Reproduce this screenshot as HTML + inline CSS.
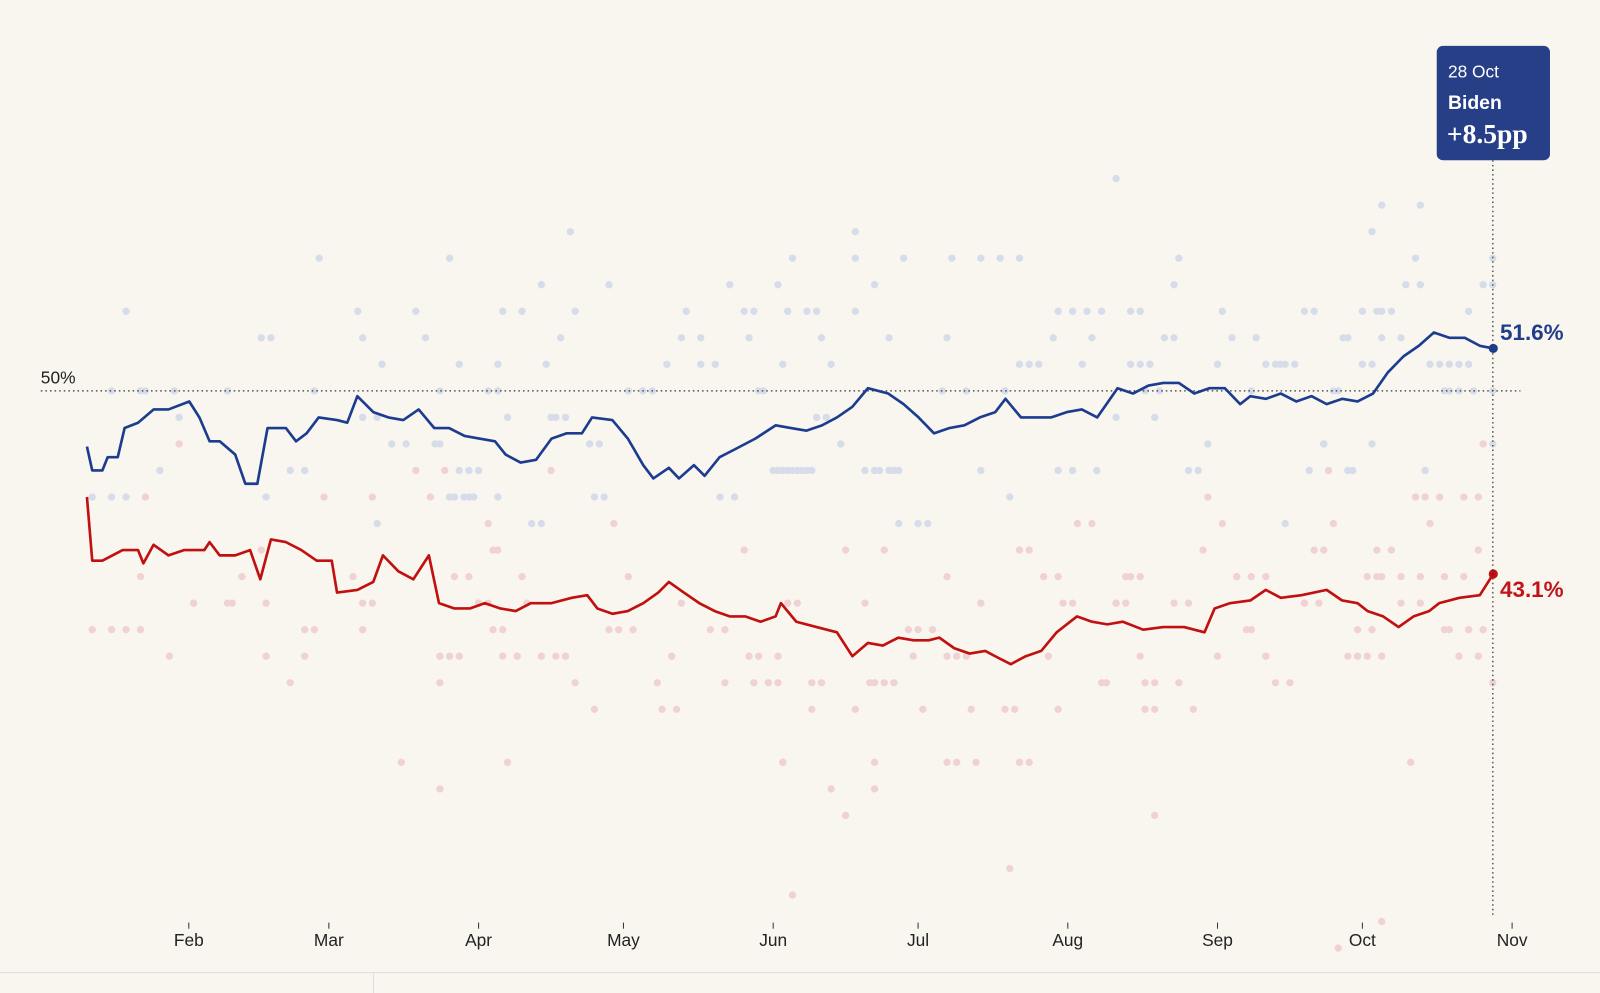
<!DOCTYPE html>
<html><head><meta charset="utf-8"><style>
html,body{margin:0;padding:0;background:#f9f6f0;}
svg{display:block;font-family:"Liberation Sans",sans-serif;}
</style></head><body>
<svg id="chart" width="1600" height="993" viewBox="0 0 1568 973" preserveAspectRatio="none">
<rect x="0" y="0" width="1568" height="973" fill="#f9f6f0"/>
<g id="dots"></g>
<line x1="40" x2="1490" y1="383" y2="383" stroke="#333" stroke-width="1.2" stroke-dasharray="1.5,3"/>
<text x="40" y="376" font-size="17" fill="#222">50%</text>
<g id="lines"></g>
<g id="xaxis"></g>
<line x1="1463" x2="1463" y1="157" y2="898" stroke="#333" stroke-width="1.2" stroke-dasharray="1.5,3"/>
<g>
<rect x="1408" y="45" width="111" height="112" rx="6" fill="#263f87"/>
<text x="1419" y="76" font-size="17" fill="#fff">28 Oct</text>
<text x="1419" y="107" font-size="19" font-weight="bold" fill="#fff">Biden</text>
<text x="1418" y="140" font-size="27" font-weight="bold" fill="#fff" font-family="Liberation Serif,serif">+8.5pp</text>
</g>
<text x="1470" y="333" font-size="22" font-weight="bold" fill="#1f3d8a">51.6%</text>
<text x="1470" y="585" font-size="22" font-weight="bold" fill="#c0141b">43.1%</text>
<line x1="0" x2="1568" y1="953" y2="953" stroke="#ddd" stroke-width="1"/>
<line x1="366" x2="366" y1="953" y2="973" stroke="#ddd" stroke-width="1"/>
</svg>
<script>
const monthLabels=["Feb","Mar","Apr","May","Jun","Jul","Aug","Sep","Oct","Nov"];
const monthDays=[31,60,91,121,152,182,213,244,274,305];
const bidenDays=[9.9,11,13.1,14.2,16.3,17.7,20.5,23.7,26.8,31.1,33.2,35.3,37.4,40.6,42.7,45.2,47.3,51.1,53.2,55.4,57.9,61.7,63.8,65.9,69.2,72.3,75.4,78.6,81.8,84.9,88.1,91.3,94.4,96.6,99.7,102.9,106.1,109.2,112.4,114.5,118.7,121.9,125.1,127.2,130.4,132.5,135.6,137.8,140.9,144.1,148.3,152.5,155.7,158.9,162.1,165.2,168.4,171.6,175.8,179,182.1,185.3,188.5,191.6,194.8,198,200.1,203.3,206.4,209.6,212.8,215.9,219.1,223.3,226.5,229.7,232.8,236,239.2,242.3,245.5,248.7,250.8,254,257.1,260.3,263.5,266.6,269.8,273,276.2,279.3,282.5,285.7,288.8,292,295.2,298.3,301.1];
const bidenVals=[47.9,47.0,47.0,47.5,47.5,48.6,48.8,49.3,49.3,49.6,49.0,48.1,48.1,47.6,46.5,46.5,48.6,48.6,48.1,48.4,49.0,48.9,48.8,49.8,49.2,49.0,48.9,49.3,48.6,48.6,48.3,48.2,48.1,47.6,47.3,47.4,48.2,48.4,48.4,49.0,48.9,48.2,47.2,46.7,47.1,46.7,47.2,46.8,47.5,47.8,48.2,48.7,48.6,48.5,48.7,49.0,49.4,50.1,49.9,49.5,49.0,48.4,48.6,48.7,49.0,49.2,49.7,49.0,49.0,49.0,49.2,49.3,49.0,50.1,49.9,50.2,50.3,50.3,49.9,50.1,50.1,49.5,49.8,49.7,49.9,49.6,49.8,49.5,49.7,49.6,49.9,50.7,51.3,51.7,52.2,52.0,52.0,51.7,51.6];
const trumpDays=[9.9,11,13.1,17.3,20.5,21.6,23.7,26.8,30,34.2,35.3,37.4,40.6,43.7,45.8,48,51.1,54.3,57.5,60.6,61.7,65.9,69.2,71.2,74.4,77.5,80.7,82.8,86,89.2,92.3,95.5,98.7,101.8,106.1,110.3,113.5,115.6,118.7,121.9,125.1,128.2,130.4,133.5,136.7,139.9,143,146.2,149.4,152.5,153.6,156.8,161,165.2,168.4,171.6,174.7,177.9,181.1,184.2,186.4,189.5,192.7,195.9,199,201.2,204.3,207.5,210.7,214.9,218,221.2,224.4,228.6,232.8,237.1,241.3,243.4,246.6,250.8,254,257.1,261.4,266.6,269.8,273,275.1,278.3,281.5,284.6,287.8,289.9,294.1,298.3,301.1];
const trumpVals=[46.0,43.6,43.6,44.0,44.0,43.5,44.2,43.8,44.0,44.0,44.3,43.8,43.8,44.0,42.9,44.4,44.3,44.0,43.6,43.6,42.4,42.5,42.8,43.8,43.2,42.9,43.8,42.0,41.8,41.8,42.0,41.8,41.7,42.0,42.0,42.2,42.3,41.8,41.6,41.7,42.0,42.4,42.8,42.4,42.0,41.7,41.5,41.5,41.3,41.5,42.0,41.3,41.1,40.9,40.0,40.5,40.4,40.7,40.6,40.6,40.7,40.3,40.1,40.2,39.9,39.7,40.0,40.2,40.9,41.5,41.3,41.2,41.3,41.0,41.1,41.1,40.9,41.8,42.0,42.1,42.5,42.2,42.3,42.5,42.1,42.0,41.7,41.5,41.1,41.5,41.7,42.0,42.2,42.3,43.1];
const pollBDays=[18,11,15,18,15,21,22,25,28,29,39,46,48,47,52,55,58,57,66,67,67,70,71,70,73,76,78,80,82,83,83,85,87,85,86,88,89,90,87,89,91,93,95,95,96,100,97,95,102,104,104,105,106,107,109,108,110,111,114,116,115,117,118,122,125,127,130,133,134,137,137,140,141,144,143,146,148,147,149,150,152,153,154,155,156,157,158,159,160,154,153,155,159,156,161,162,164,161,163,166,169,169,169,171,173,174,176,177,178,173,176,179,178,182,184,187,188,189,192,195,195,199,203,200,200,203,205,207,201,210,211,214,217,211,214,216,218,219,220,223,223,226,228,226,228,230,229,232,231,233,235,235,236,238,240,242,244,244,245,247,251,252,254,256,258,260,257,258,262,263,264,266,266,268,269,271,270,272,271,274,276,274,276,278,280,277,278,276,278,282,286,283,285,286,287,290,292,294,296,288,291,294,297,301,292,296,299,301,301,301];
const pollBVals=[53,46,46,46,50,50,50,47,50,49,50,52,52,46,47,47,55,50,53,52,49,49,51,45,48,48,53,52,48,48,50,55,51,46,46,46,46,46,47,47,47,50,50,51,53,53,49,46,45,45,54,51,49,49,49,52,56,53,48,48,46,46,54,50,50,50,51,52,53,52,51,51,46,46,54,53,53,52,50,50,47,47,47,47,47,47,47,47,47,51,54,53,53,55,53,52,51,49,49,48,56,55,53,47,47,47,47,47,47,54,52,55,45,45,45,50,52,55,50,47,55,55,55,50,50,51,51,51,46,52,53,53,53,47,47,51,52,47,53,58,49,53,53,51,51,51,50,50,49,52,52,54,55,47,47,48,51,51,53,52,50,52,51,51,51,51,51,45,53,47,53,48,48,50,50,52,52,47,47,53,51,51,48,53,53,53,57,56,52,52,54,54,55,57,47,51,51,51,51,51,50,50,50,50,50,53,54,54,55,48,49];
const pollTDays=[11,15,18,21,22,21,27,29,32,39,40,42,46,47,47,52,55,55,57,59,65,67,69,67,69,75,78,81,83,84,83,85,87,83,86,89,91,93,93,94,95,94,96,97,96,99,100,101,106,104,107,109,111,115,119,118,120,123,122,129,132,128,131,133,139,142,142,146,147,149,153,148,151,153,154,154,155,157,156,160,162,160,164,167,167,169,171,172,173,175,177,173,173,175,180,182,185,181,183,188,190,188,190,192,188,193,194,195,200,202,201,203,205,203,205,208,211,209,211,212,214,215,218,220,221,223,225,223,226,225,228,229,228,231,229,231,236,229,231,235,238,239,241,242,244,245,248,251,254,248,250,251,254,256,259,262,265,262,264,266,267,268,269,271,273,278,275,278,273,276,275,277,278,282,286,291,295,298,277,280,284,282,286,285,287,290,295,298,288,292,296,299,291,294,298,299,301];
const pollTVals=[41,41,41,41,46,43,40,48,42,42,42,43,44,42,40,39,40,41,41,46,43,42,42,41,46,36,47,46,35,47,40,40,40,39,43,43,42,42,45,44,44,41,41,36,40,40,43,42,47,40,40,40,39,38,45,41,41,41,43,38,38,39,40,42,41,41,39,44,40,40,40,39,39,39,36,36,42,42,31,39,39,38,35,34,44,38,42,39,39,39,39,36,35,44,41,41,41,40,38,36,36,40,40,40,43,38,36,42,38,38,32,36,36,44,44,43,43,40,38,42,42,45,45,39,39,42,42,42,43,43,43,38,40,34,38,38,39,39,39,42,42,38,44,46,40,45,43,43,43,43,41,41,40,39,39,42,42,42,44,44,47,45,29,40,40,40,40,30,41,41,43,43,43,43,43,43,43,44,44,44,36,42,42,46,46,46,46,46,45,41,41,41,41,40,40,48,39,47];

const X=d=>38.3+d*4.733;
const Y=p=>383-(p-50)*26;
const NS="http://www.w3.org/2000/svg";
const dots=document.getElementById('dots');
for(let i=0;i<pollTDays.length;i++){
  const c=document.createElementNS(NS,'circle');
  c.setAttribute('cx',X(pollTDays[i]));c.setAttribute('cy',Y(pollTVals[i]));c.setAttribute('r',3.6);c.setAttribute('fill','#f0d2d4');
  
  
  dots.appendChild(c);
}
for(let i=0;i<pollBDays.length;i++){
  const c=document.createElementNS(NS,'circle');
  c.setAttribute('cx',X(pollBDays[i]));c.setAttribute('cy',Y(pollBVals[i]));c.setAttribute('r',3.6);c.setAttribute('fill','#d7dcea');
  
  
  dots.appendChild(c);
}
const lines=document.getElementById('lines');
function drawLine(days,vals,color,name){
  const p=document.createElementNS(NS,'path');
  p.setAttribute('d',days.map((d,i)=>(i?'L':'M')+X(d).toFixed(1)+','+Y(vals[i]).toFixed(1)).join(''));
  p.setAttribute('fill','none');p.setAttribute('stroke',color);p.setAttribute('stroke-width',2.6);p.setAttribute('stroke-linejoin','round');
  
  
  lines.appendChild(p);
  const e=document.createElementNS(NS,'circle');
  e.setAttribute('cx',X(days[days.length-1]));e.setAttribute('cy',Y(vals[vals.length-1]));e.setAttribute('r',4.5);e.setAttribute('fill',color);
  
  
  lines.appendChild(e);
}
drawLine(trumpDays,trumpVals,'#c0100f','trump-line');
drawLine(bidenDays,bidenVals,'#1c3c8f','biden-line');
const xa=document.getElementById('xaxis');
monthLabels.forEach((m,i)=>{
  const tk=document.createElementNS(NS,'line');
  tk.setAttribute('x1',X(monthDays[i]));tk.setAttribute('x2',X(monthDays[i]));tk.setAttribute('y1',904);tk.setAttribute('y2',910);tk.setAttribute('stroke','#333');tk.setAttribute('stroke-width',1);
  
  
  xa.appendChild(tk);
  const t=document.createElementNS(NS,'text');
  t.setAttribute('x',X(monthDays[i]));t.setAttribute('y',927);t.setAttribute('text-anchor','middle');t.setAttribute('font-size',17);t.setAttribute('fill','#222');
  t.textContent=m;
  
  
  xa.appendChild(t);
});
</script>
</body></html>
